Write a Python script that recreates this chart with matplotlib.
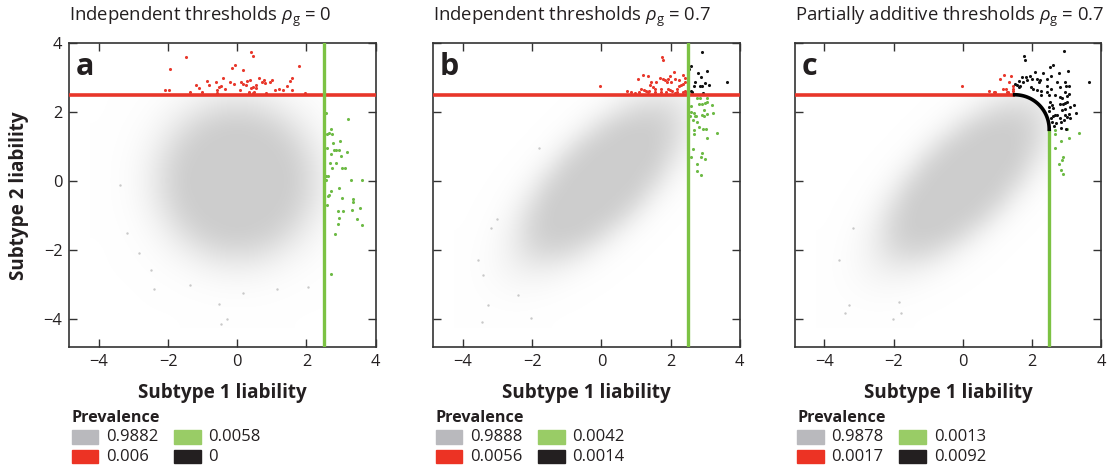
# Liability threshold scatter panels (a, b, c)
import numpy as np
import matplotlib
matplotlib.use("Agg")
import matplotlib.pyplot as plt
from matplotlib.colors import LinearSegmentedColormap
from matplotlib.patches import Rectangle
from matplotlib.path import Path

plt.rcParams["font.family"] = ["Open Sans", "DejaVu Sans"]
plt.rcParams["mathtext.fontset"] = "custom"
plt.rcParams["mathtext.rm"] = "Open Sans"
plt.rcParams["mathtext.it"] = "Open Sans:italic"
plt.rcParams["mathtext.bf"] = "Open Sans:bold"

# ---- data -------------------------------------------------------------
threshold = 2.5
arc_center = 1.5   # partially additive threshold (panel c)
arc_radius = 1.0

titles = [r"Independent thresholds $\rho_\mathrm{g}$ = 0",
          r"Independent thresholds $\rho_\mathrm{g}$ = 0.7",
          r"Partially additive thresholds $\rho_\mathrm{g}$ = 0.7"]
letters = ["a", "b", "c"]
ticks = [-4, -2, 0, 2, 4]

# prevalence: gray, red, green, black
prev_a = ["0.9882", "0.006", "0.0058", "0"]
prev_b = ["0.9888", "0.0056", "0.0042", "0.0014"]
prev_c = ["0.9878", "0.0017", "0.0013", "0.0092"]

# gray cloud: estimated point coverage on a 0.5-unit grid
# rows y = 3 .. -4 (top to bottom), cols x = -4 .. 3
grid_x = [-4, -3.5, -3, -2.5, -2, -1.5, -1, -0.5, 0, 0.5, 1, 1.5, 2, 2.5, 3]
grid_y = [3, 2.5, 2, 1.5, 1, 0.5, 0, -0.5, -1, -1.5, -2, -2.5, -3, -3.5, -4]
cloud_a = [
    [0, 0, 0.005, 0.015, 0.02, 0.04, 0.06, 0.09, 0.10, 0.09, 0.06, 0.04, 0.02, 0.015, 0.005],
    [0, 0.005, 0.015, 0.025, 0.06, 0.12, 0.22, 0.30, 0.33, 0.30, 0.22, 0.12, 0.06, 0.025, 0.015],
    [0, 0.01, 0.02, 0.06, 0.16, 0.33, 0.52, 0.68, 0.72, 0.68, 0.52, 0.33, 0.16, 0.06, 0.02],
    [0.005, 0.015, 0.04, 0.12, 0.33, 0.62, 0.88, 0.97, 1, 0.97, 0.88, 0.62, 0.33, 0.12, 0.04],
    [0.01, 0.02, 0.06, 0.22, 0.52, 0.88, 1, 1, 1, 1, 1, 0.88, 0.52, 0.22, 0.06],
    [0.01, 0.025, 0.09, 0.30, 0.68, 0.97, 1, 1, 1, 1, 1, 0.97, 0.68, 0.30, 0.09],
    [0.01, 0.025, 0.10, 0.33, 0.72, 1, 1, 1, 1, 1, 1, 1, 0.72, 0.33, 0.10],
    [0.01, 0.025, 0.09, 0.30, 0.68, 0.97, 1, 1, 1, 1, 1, 0.97, 0.68, 0.30, 0.09],
    [0.01, 0.02, 0.06, 0.22, 0.52, 0.88, 1, 1, 1, 1, 1, 0.88, 0.52, 0.22, 0.06],
    [0.005, 0.015, 0.04, 0.12, 0.33, 0.62, 0.88, 0.97, 1, 0.97, 0.88, 0.62, 0.33, 0.12, 0.04],
    [0, 0.01, 0.02, 0.06, 0.16, 0.33, 0.52, 0.68, 0.72, 0.68, 0.52, 0.33, 0.16, 0.06, 0.02],
    [0, 0.005, 0.015, 0.025, 0.06, 0.12, 0.22, 0.30, 0.33, 0.30, 0.22, 0.12, 0.06, 0.025, 0.015],
    [0, 0, 0.005, 0.015, 0.02, 0.04, 0.06, 0.09, 0.10, 0.09, 0.06, 0.04, 0.02, 0.015, 0.005],
    [0, 0, 0, 0.005, 0.01, 0.015, 0.02, 0.025, 0.025, 0.025, 0.02, 0.015, 0.01, 0.005, 0],
    [0, 0, 0, 0, 0, 0.005, 0.01, 0.01, 0.01, 0.01, 0.01, 0.005, 0, 0, 0],
]
cloud_bc = [
    [0, 0, 0, 0, 0, 0, 0, 0, 0.007, 0.02, 0.05, 0.10, 0.13, 0.12, 0.07],
    [0, 0, 0, 0, 0, 0, 0.002, 0.01, 0.04, 0.12, 0.25, 0.36, 0.36, 0.25, 0.12],
    [0, 0, 0, 0, 0, 0, 0.012, 0.06, 0.20, 0.49, 0.74, 0.80, 0.66, 0.36, 0.13],
    [0, 0, 0, 0, 0, 0.015, 0.07, 0.28, 0.72, 0.97, 1, 0.99, 0.80, 0.36, 0.10],
    [0, 0, 0, 0, 0.012, 0.07, 0.33, 0.84, 1, 1, 1, 1, 0.74, 0.25, 0.05],
    [0, 0, 0, 0.01, 0.06, 0.28, 0.84, 1, 1, 1, 1, 0.97, 0.49, 0.12, 0.02],
    [0, 0, 0.007, 0.04, 0.20, 0.72, 1, 1, 1, 1, 1, 0.72, 0.20, 0.04, 0.007],
    [0, 0.003, 0.02, 0.12, 0.49, 0.97, 1, 1, 1, 1, 0.84, 0.28, 0.06, 0.01, 0],
    [0, 0.01, 0.05, 0.25, 0.74, 1, 1, 1, 1, 0.84, 0.33, 0.07, 0.012, 0, 0],
    [0.004, 0.02, 0.10, 0.36, 0.80, 0.99, 1, 0.97, 0.72, 0.28, 0.07, 0.015, 0, 0, 0],
    [0.007, 0.035, 0.13, 0.36, 0.66, 0.80, 0.74, 0.49, 0.20, 0.06, 0.012, 0, 0, 0, 0],
    [0.01, 0.04, 0.12, 0.25, 0.36, 0.36, 0.25, 0.12, 0.04, 0.01, 0.002, 0, 0, 0, 0],
    [0.01, 0.03, 0.07, 0.12, 0.13, 0.10, 0.05, 0.02, 0.007, 0, 0, 0, 0, 0, 0],
    [0.008, 0.018, 0.03, 0.04, 0.035, 0.02, 0.01, 0.003, 0, 0, 0, 0, 0, 0, 0],
    [0.005, 0.008, 0.01, 0.01, 0.007, 0.004, 0, 0, 0, 0, 0, 0, 0, 0, 0],
]

# sparse gray outliers
a_gray_x = [-0.52, -0.48, -0.31, -2.42, 2.03, 1.16, 0.17, -1.37, -3.39, -3.19, -2.49, -2.83]
a_gray_y = [-3.55, -4.13, -4.0, -3.13, -3.06, -3.12, -3.23, -3.01, -0.10, -1.50, -2.58, -2.07]
b_gray_x = [-3.44, -3.29, -3.57, -3.41, -3.18, -2.04, -2.42, -3.02, -1.79]
b_gray_y = [-4.07, -3.59, -2.29, -2.71, -1.37, -3.97, -3.30, -1.09, 0.95]
c_gray_x = [-3.42, -2.01, -1.79, -1.83, -3.29, -3.57, -3.18]
c_gray_y = [-3.83, -4.0, -3.83, -3.49, -3.59, -2.29, -1.37]

# panel a
a_red_x = [-1.96, -1.48, 0.39, 0.46, 1.79, -2.08, -1.99, -1.37, -1.19, -1.10, -1.03, -0.88, -0.82, -0.61,
           -0.58, -0.52, -0.46, -0.42, -0.37, -0.21, -0.16, -0.07, -0.10, 0.08, 0.10, 0.15, 0.17, 0.25,
           0.27, 0.35, 0.38, 0.40, 0.46, 0.48, 0.54, 0.55, 0.62, 0.72, 0.77, 0.81, 0.83, 0.95, 1.00,
           1.09, 1.21, 1.33, 1.45, 1.52, 1.59, 1.57, 1.97, 0.45, 0.33, -0.59]
a_red_y = [3.25, 3.59, 3.73, 3.62, 3.34, 2.64, 2.64, 2.59, 2.78, 2.69, 2.59, 2.89, 2.79, 2.88,
           2.64, 2.73, 2.75, 2.99, 2.66, 2.88, 3.27, 3.36, 2.81, 2.64, 2.86, 2.81, 3.23, 2.79,
           2.89, 2.59, 2.93, 2.69, 2.73, 2.59, 2.79, 2.69, 2.98, 2.86, 2.94, 2.83, 2.56, 2.86, 2.93,
           2.65, 2.66, 2.64, 2.76, 2.91, 2.99, 2.65, 2.56, 2.56, 2.56, 2.56]
a_green_x = [2.55, 3.19, 2.70, 2.66, 2.74, 2.60, 2.78, 2.98, 2.59, 2.80, 2.85, 2.93, 2.70, 3.17, 3.01,
             2.68, 2.84, 2.75, 3.04, 3.12, 2.57, 2.63, 2.56, 3.28, 3.60, 2.95, 2.70, 2.66, 2.62, 3.02,
             3.34, 3.35, 2.58, 3.05, 2.92, 3.32, 3.56, 2.93, 3.45, 2.91, 3.61, 2.82, 2.71]
a_green_y = [1.96, 1.80, 1.50, 1.39, 1.37, 1.35, 1.10, 1.17, 0.96, 0.89, 0.90, 0.91, 0.77, 0.85, 0.73,
             0.52, 0.52, 0.37, 0.38, 0.38, 0.16, 0.14, 0.02, 0.02, 0.02, -0.19, -0.29, -0.40, -0.44, -0.49,
             -0.52, -0.62, -0.70, -0.86, -0.88, -0.84, -0.77, -1.06, -1.10, -1.23, -1.28, -1.52, -2.69]
a_black_x = []
a_black_y = []

# panel b
b_red_x = [1.76, 1.79, 1.20, 1.07, 1.36, 1.44, 1.57, 1.69, 1.78, 1.83, 1.92, 1.98, 2.09, 1.90, 2.00,
           2.14, 2.24, 2.37, 2.42, 1.42, 1.50, 1.56, 1.16, 1.22, 1.29, 1.37, 1.71, 1.73, 1.92, 1.98,
           2.04, 2.19, 2.24, 2.29, 2.37, 2.41, 2.19, 2.35, 2.41, 0.74, 0.86, 0.96, 1.08, 1.54, 1.34,
           1.88, 2.12, 2.46, -0.03]
b_red_y = [3.59, 3.51, 3.07, 2.95, 3.03, 2.86, 2.88, 2.98, 2.95, 2.92, 2.95, 3.03, 3.15, 2.86, 2.86,
           2.95, 2.93, 3.08, 2.98, 2.78, 2.71, 2.68, 2.68, 2.65, 2.62, 2.62, 2.67, 2.59, 2.68, 2.65,
           2.62, 2.68, 2.74, 2.78, 2.81, 2.86, 2.59, 2.59, 2.62, 2.60, 2.57, 2.55, 2.57, 2.57, 2.57,
           2.57, 2.55, 2.57, 2.74]
b_green_x = [2.77, 2.84, 3.06, 2.83, 2.92, 2.99, 3.05, 3.19, 2.58, 2.98, 2.60, 2.67, 2.74, 2.70, 2.57,
             3.06, 2.91, 2.96, 3.24, 2.65, 2.77, 2.83, 2.95, 3.03, 2.67, 2.67, 3.34, 3.04, 2.66, 2.90,
             2.60, 2.87, 3.00, 2.77, 2.77, 2.87]
b_green_y = [2.41, 2.41, 2.41, 2.23, 2.23, 2.25, 2.30, 2.20, 2.18, 2.06, 1.99, 1.96, 1.87, 1.87, 1.87,
             1.94, 1.90, 1.88, 1.96, 1.77, 1.72, 1.56, 1.50, 1.52, 1.48, 1.37, 1.39, 1.25, 0.94, 0.80,
             0.69, 0.69, 0.63, 0.49, 0.29, 0.18]
b_black_x = [2.91, 2.58, 2.54, 2.79, 3.04, 2.89, 2.72, 2.67, 2.85, 2.99, 3.10, 2.92, 3.62, 2.58, 2.62, 2.94]
b_black_y = [3.75, 3.34, 3.26, 3.12, 3.18, 3.00, 2.86, 2.74, 2.76, 2.83, 2.78, 2.74, 2.88, 2.62, 2.59, 2.55]

# panel c
c_red_x = [-0.03, 1.08, 1.20, 1.39, 1.35, 1.17, 1.24, 1.46, 1.46, 0.75, 0.89, 0.94, 1.27, 1.32, 1.30, 1.44]
c_red_y = [2.74, 2.97, 3.08, 3.05, 2.86, 2.68, 2.67, 2.76, 2.68, 2.62, 2.59, 2.57, 2.59, 2.57, 2.55, 2.60]
c_green_x = [2.68, 2.68, 3.00, 2.83, 2.67, 2.91, 2.86, 2.77, 2.85, 2.89, 3.35, 3.06]
c_green_y = [1.48, 1.37, 1.51, 1.16, 0.95, 0.71, 0.60, 0.50, 0.31, 0.21, 1.39, 1.26]
c_black_x = [2.93, 1.77, 1.80, 2.60, 2.52, 2.10, 2.33, 2.54, 2.79, 3.04,
             1.71, 1.82, 1.95, 2.00, 2.16, 2.23, 1.62, 1.85, 1.75, 1.51,
             1.58, 1.66, 2.20, 2.45, 2.73, 2.97, 3.64, 1.62, 1.96, 2.04,
             2.16, 2.26, 2.45, 2.56, 2.81, 2.99, 3.06, 2.96, 2.27, 2.81,
             2.87, 3.00, 3.06, 2.43, 2.48, 2.68, 2.52, 2.57, 2.50, 2.48,
             2.60, 2.81, 2.89, 2.97, 3.02, 3.22, 2.87, 2.95, 3.10, 2.68,
             2.62, 2.73, 2.81, 2.97, 3.06, 3.27, 2.56, 2.70, 2.85, 2.93,
             3.00, 3.10, 2.84, 2.99, 2.64, 2.58]
c_black_y = [3.77, 3.61, 3.51, 3.36, 3.29, 3.17, 3.13, 3.05, 3.12, 3.19,
             3.00, 3.00, 3.03, 2.97, 2.95, 2.94, 2.91, 2.93, 2.88, 2.81,
             2.78, 2.76, 2.86, 2.95, 2.86, 2.86, 2.88, 2.71, 2.71, 2.67,
             2.65, 2.62, 2.76, 2.67, 2.71, 2.76, 2.76, 2.59, 2.49, 2.43,
             2.40, 2.45, 2.53, 2.57, 2.49, 2.49, 2.28, 2.20, 2.14, 2.04,
             2.11, 2.23, 2.23, 2.25, 2.28, 2.20, 2.07, 2.09, 2.14, 1.92,
             1.88, 1.90, 1.84, 1.90, 1.95, 1.97, 1.82, 1.68, 1.72, 1.78,
             1.86, 1.82, 1.55, 1.51, 1.60, 1.72]

# ---- style ------------------------------------------------------------
dot_gray = "#c8c8c8"
dot_red = "#e8382c"
dot_green = "#6dba45"
dot_black = "#111111"
line_red = "#e8362a"
line_green = "#7cc243"
patch_colors = ["#b9b9bd", "#ec3324", "#99cc66", "#231f20"]
text_color = "#231f20"
cloud_cmap = LinearSegmentedColormap.from_list("cloud", ["#ffffff", "#cdcdcd"])

fig = plt.figure(figsize=(11.14, 4.67), dpi=100)
lefts = [0.0622, 0.389, 0.7134]
axes = [fig.add_axes([l, 0.256, 0.275, 0.652]) for l in lefts]

panels = [
    (cloud_a, a_gray_x, a_gray_y, a_red_x, a_red_y, a_green_x, a_green_y, a_black_x, a_black_y, prev_a, False),
    (cloud_bc, b_gray_x, b_gray_y, b_red_x, b_red_y, b_green_x, b_green_y, b_black_x, b_black_y, prev_b, False),
    (cloud_bc, c_gray_x, c_gray_y, c_red_x, c_red_y, c_green_x, c_green_y, c_black_x, c_black_y, prev_c, True),
]

xlim = (-4.86, 4.0)
ylim = (-4.82, 4.0)
half = abs(grid_x[1] - grid_x[0]) / 2
extent = (grid_x[0] - half, grid_x[-1] + half, grid_y[-1] - half, grid_y[0] + half)

for i, ax in enumerate(axes):
    cloud, gx, gy, rx, ry, grx, gry, bx, by, prev, curved = panels[i]

    im = ax.imshow(np.array(cloud), extent=extent, origin="upper", cmap=cloud_cmap,
                   vmin=0, vmax=1, interpolation="bicubic", aspect="auto", zorder=1)
    # gray region: below both thresholds
    if curved:
        t = np.linspace(0, np.pi / 2, 60)
        verts = [(-10, -10), (threshold, -10), (threshold, arc_center)]
        verts += list(zip(arc_center + arc_radius * np.cos(t), arc_center + arc_radius * np.sin(t)))
        verts += [(-10, threshold), (-10, -10)]
        im.set_clip_path(Path(verts), ax.transData)
    else:
        clip = Rectangle((-10, -10), 10 + threshold, 10 + threshold, transform=ax.transData)
        im.set_clip_path(clip)

    ax.scatter(gx, gy, s=3, color=dot_gray, linewidths=0, zorder=2)
    ax.scatter(rx, ry, s=5, color=dot_red, linewidths=0, zorder=3)
    ax.scatter(grx, gry, s=5, color=dot_green, linewidths=0, zorder=3)
    if bx:
        ax.scatter(bx, by, s=5, color=dot_black, linewidths=0, zorder=3)

    # threshold lines
    if curved:
        ax.plot([xlim[0], arc_center], [threshold, threshold], color=line_red, lw=2.6,
                solid_capstyle="butt", zorder=4)
        ax.plot([threshold, threshold], [ylim[0], arc_center], color=line_green, lw=2.4,
                solid_capstyle="butt", zorder=4)
        t = np.linspace(0, np.pi / 2, 60)
        ax.plot(arc_center + arc_radius * np.cos(t), arc_center + arc_radius * np.sin(t),
                color="black", lw=2.6, zorder=5)
    else:
        ax.axhline(threshold, color=line_red, lw=2.6, zorder=4)
        ax.axvline(threshold, color=line_green, lw=2.4, zorder=5)

    ax.set_xlim(xlim)
    ax.set_ylim(ylim)
    ax.set_xticks(ticks)
    ax.set_yticks(ticks)
    ax.set_xticklabels([f"{v}".replace("-", "\u2212") for v in ticks])
    if i == 0:
        ax.set_yticklabels([f"{v}".replace("-", "\u2212") for v in ticks])
        ax.set_ylabel("Subtype 2 liability", fontsize=13.6, fontweight="bold", color=text_color)
        ax.yaxis.set_label_coords(-0.13, 0.5)
    else:
        ax.set_yticklabels([])
    ax.tick_params(direction="in", length=6, width=1, top=True, right=True,
                   labelsize=11.8, colors="#333333", labelcolor=text_color, pad=5)
    for sp in ax.spines.values():
        sp.set_linewidth(1.2)
        sp.set_color("#333333")

    ax.set_xlabel("Subtype 1 liability", fontsize=13.6, fontweight="bold", color=text_color)
    ax.xaxis.set_label_coords(0.5, -0.118)

    ax.text(0.0, 1.072, titles[i], transform=ax.transAxes, fontsize=13.3, ha="left",
            va="baseline", color=text_color)
    ax.text(0.022, 0.895, letters[i], transform=ax.transAxes, fontsize=22, fontweight="bold",
            ha="left", va="baseline", color=text_color, zorder=6)

    # prevalence legend
    ax.text(0.008, -0.232, "Prevalence", transform=ax.transAxes, fontsize=11.6,
            fontweight="bold", ha="left", va="center", color=text_color)
    spots = [(0.008, -0.317), (0.008, -0.381), (0.342, -0.317), (0.342, -0.381)]
    for (px, py), col, val in zip(spots, patch_colors, prev):
        ax.add_patch(Rectangle((px, py), 0.087, 0.045, transform=ax.transAxes,
                               color=col, clip_on=False))
        ax.text(px + 0.112, py + 0.0225, val, transform=ax.transAxes, fontsize=12,
                ha="left", va="center", color=text_color)

fig.savefig("out.png", dpi=100)
